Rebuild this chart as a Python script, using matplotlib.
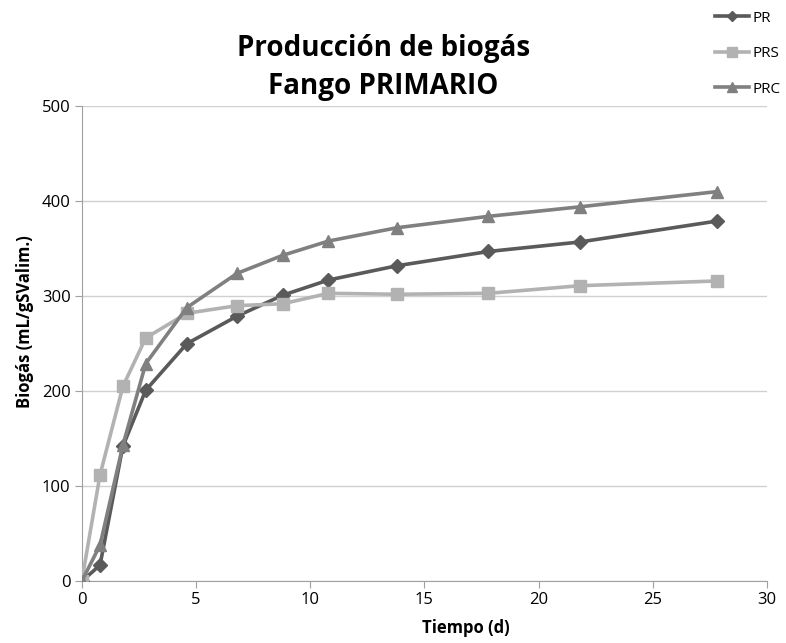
import matplotlib
matplotlib.use("Agg")
import matplotlib.pyplot as plt

plt.rcParams['font.family'] = ['Open Sans', 'DejaVu Sans']

# Days of sampling
dias = [0, 0.8, 1.8, 2.8, 4.6, 6.8, 8.8, 10.8, 13.8, 17.8, 21.8, 27.8]

# Cumulative biogas (mL/gSValim.)
pr = [0, 17, 142, 201, 250, 279, 301, 317, 332, 347, 357, 379]
prs = [0, 112, 205, 256, 282, 290, 292, 303, 302, 303, 311, 316]
prc = [0, 38, 143, 229, 288, 324, 343, 358, 372, 384, 394, 410]

series = [
    ('PR', pr, '#5a5a5a', 'D', 7),
    ('PRS', prs, '#b2b2b2', 's', 9),
    ('PRC', prc, '#808080', '^', 9),
]

fig = plt.figure(figsize=(7.86, 6.43), dpi=100)
ax = fig.add_axes([0.104, 0.096, 0.872, 0.739])

handles = []
for name, vals, color, marker, ms in series:
    line, = ax.plot(dias, vals, color=color, linewidth=2.6, marker=marker,
                    markersize=ms, markeredgecolor=color, label=name, zorder=3)
    handles.append(line)

ax.set_xlim(0, 30)
ax.set_ylim(0, 500)
ax.set_xticks(range(0, 31, 5))
ax.set_yticks(range(0, 501, 100))
ax.yaxis.grid(True, color='#d0d0d0', linewidth=1)
ax.set_axisbelow(True)

for side in ['top', 'right']:
    ax.spines[side].set_visible(False)
for side in ['left', 'bottom']:
    ax.spines[side].set_color('#a0a0a0')
ax.tick_params(axis='both', direction='out', color='#a0a0a0', length=5,
               labelsize=12, pad=3)

ax.set_xlabel('Tiempo (d)', fontsize=12, fontweight='bold')
ax.xaxis.set_label_coords(0.561, -0.08)
ax.set_ylabel('Biogás (mL/gSValim.)', fontsize=12, fontweight='bold')
ax.yaxis.set_label_coords(-0.07, 0.547)

fig.text(0.488, 0.895, 'Producción de biogás\nFango PRIMARIO', ha='center',
         va='center', fontsize=20, fontweight='bold', linespacing=1.45)

fig.legend(handles=handles, loc='upper right', bbox_to_anchor=(1.01, 1.005),
           frameon=False, fontsize=11, handlelength=2.2, labelspacing=1.35,
           handletextpad=0.2, markerscale=0.75)

fig.savefig('out.png', dpi=100)
